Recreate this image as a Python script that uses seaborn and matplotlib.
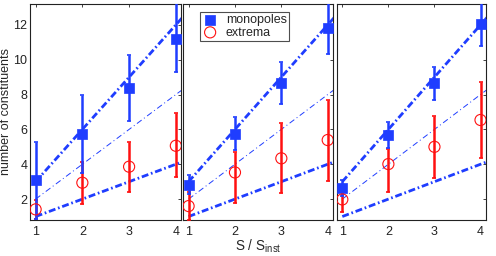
import matplotlib
matplotlib.use("Agg")
import matplotlib.pyplot as plt
import seaborn as sns
import numpy as np
import pandas as pd

# ---- data ----
x_vals = [1, 2, 3, 4]
x_ticks = [1, 2, 3, 4]
y_ticks = [2, 4, 6, 8, 10, 12]

mono_mean = [[3.09, 5.71, 8.36, 11.20],
             [2.80, 5.74, 8.68, 11.80],
             [2.62, 5.68, 8.65, 12.04]]
mono_lo = [[0.85, 3.47, 6.46, 9.27],
           [2.32, 4.82, 7.46, 10.30],
           [2.18, 4.91, 7.69, 10.79]]
mono_hi = [[5.27, 7.98, 10.27, 13.30],
           [3.36, 6.70, 9.86, 13.30],
           [3.09, 6.44, 9.57, 13.30]]

ext_mean = [[1.41, 2.94, 3.86, 5.06],
            [1.60, 3.53, 4.34, 5.39],
            [1.98, 4.01, 5.00, 6.54]]
ext_lo = [[0.85, 1.71, 2.42, 3.25],
          [0.80, 1.75, 2.36, 3.03],
          [1.27, 2.38, 3.19, 4.34]]
ext_hi = [[1.97, 4.15, 5.29, 6.93],
          [2.40, 4.72, 6.35, 7.69],
          [2.69, 4.86, 6.79, 8.71]]

# reference guide lines (endpoints)
ref_x = [1.0, 4.5]
ref_steep = [3.0, 13.5]
ref_mid = [2.0, 9.0]
ref_flat = [1.0, 4.5]

series_labels = ["monopoles", "extrema"]
x_label = "S / S$_{\\mathrm{inst}}$"
y_label = "number of constituents"

# ---- style ----
sns.set_style("white")
plt.rcParams['font.family'] = ['Liberation Sans', 'DejaVu Sans']
plt.rcParams['mathtext.fontset'] = 'custom'
plt.rcParams['mathtext.rm'] = 'Liberation Sans'

BLUE = "#1f3dff"
RED = "#ff1010"

fig = plt.figure(figsize=(4.96, 2.56), dpi=100)
bottom, height = 0.1406, 0.844
lefts = [0.0605, 0.369, 0.679]
widths = [0.3044, 0.302, 0.300]

thick_ls = (0, (2.5, 1.0, 0.6, 1.0))
thin_ls = (0, (6.0, 3.0, 1.0, 3.0))

for i in range(3):
    ax = fig.add_axes([lefts[i], bottom, widths[i], height])
    # guide lines
    for yy, lw, ls in [(ref_steep, 2.0, thick_ls), (ref_mid, 0.7, thin_ls), (ref_flat, 2.0, thick_ls)]:
        dfl = pd.DataFrame({"x": ref_x, "y": yy})
        sns.lineplot(data=dfl, x="x", y="y", ax=ax, color=BLUE, lw=lw,
                     linestyle=ls, legend=False)
    # error bars
    em = np.array(ext_mean[i]); elo = np.array(ext_lo[i]); ehi = np.array(ext_hi[i])
    ax.errorbar(x_vals, em, yerr=[em - elo, ehi - em], fmt='none', ecolor=RED,
                elinewidth=1.8, capsize=1.2, capthick=1.2, zorder=3)
    mm = np.array(mono_mean[i]); mlo = np.array(mono_lo[i]); mhi = np.array(mono_hi[i])
    ax.errorbar(x_vals, mm, yerr=[mm - mlo, mhi - mm], fmt='none', ecolor=BLUE,
                elinewidth=1.8, capsize=1.2, capthick=1.2, zorder=4)
    # markers
    dfm = pd.DataFrame({"x": x_vals, "y": mono_mean[i]})
    sns.scatterplot(data=dfm, x="x", y="y", ax=ax, marker='s', s=55, color=BLUE,
                    edgecolor=BLUE, linewidth=0.5, zorder=5,
                    label=series_labels[0] if i == 1 else None)
    dfe = pd.DataFrame({"x": x_vals, "y": ext_mean[i]})
    sns.scatterplot(data=dfe, x="x", y="y", ax=ax, marker='o', s=64,
                    facecolor='none', edgecolor=RED, linewidth=0.8, zorder=5,
                    label=series_labels[1] if i == 1 else None)

    ax.set_xlim(0.88, 4.11)
    ax.set_ylim(0.8, 13.2)
    ax.set_xticks(x_ticks)
    ax.set_yticks(y_ticks)
    ax.tick_params(direction='in', length=2.5, width=0.6, top=True, right=True,
                   labelsize=9, pad=2, colors='#222222')
    ax.tick_params(axis='x', pad=4)
    for sp in ax.spines.values():
        sp.set_color('#222222')
        sp.set_linewidth(0.8)
    ax.set_xlabel("")
    ax.set_ylabel("")
    if i == 0:
        ax.set_ylabel(y_label, fontsize=9)
        ax.yaxis.set_label_coords(-0.118, 0.5)
    else:
        ax.set_yticklabels([])
    if i == 1:
        ax.set_xlabel(x_label, fontsize=9.8, labelpad=0)
        leg = ax.legend(loc='upper left', bbox_to_anchor=(0.11, 0.965), frameon=True,
                        fancybox=False, fontsize=9, handletextpad=0.6,
                        borderpad=0.2, labelspacing=0.05, handlelength=1.3,
                        borderaxespad=0.0)
        leg.get_frame().set_edgecolor('#222222')
        leg.get_frame().set_linewidth(0.8)
    else:
        if ax.get_legend() is not None:
            ax.get_legend().remove()

fig.savefig("out.png", dpi=100)
